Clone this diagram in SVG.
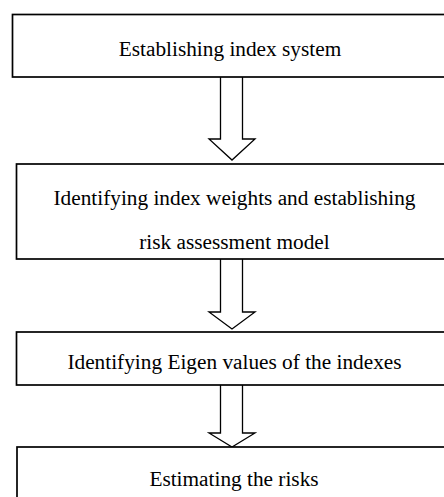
<svg xmlns="http://www.w3.org/2000/svg" width="444" height="497" viewBox="0 0 444 497">
<style>
.box{fill:#fff;stroke:#000;stroke-width:1.7}
.arr{fill:#fff;stroke:#000;stroke-width:1.3;stroke-linejoin:miter}
text{font-family:"Liberation Serif","Times New Roman",serif;font-size:21.3px;fill:#000;text-anchor:middle}
</style>
<rect width="444" height="497" fill="#fff"/>
<g id="connectors">
<path class="arr" d="M220.5,77 L220.5,139 L209,139 L232,160 L255,139 L242.5,139 L242.5,77"/>
<path class="arr" d="M220.5,259 L220.5,312 L209,312 L232,329 L255,312 L242.5,312 L242.5,259"/>
<path class="arr" d="M220.5,385 L220.5,433 L209,433 L232,447 L255,433 L242.5,433 L242.5,385"/>
</g>
<g id="node1">
<rect class="box" x="12.5" y="14.5" width="450" height="62.5"/>
<text x="230" y="56">Establishing index system</text>
</g>
<g id="node2">
<rect class="box" x="16.5" y="164" width="450" height="95"/>
<text x="234.5" y="205">Identifying index weights and establishing</text>
<text x="234.5" y="249">risk assessment model</text>
</g>
<g id="node3">
<rect class="box" x="16.5" y="332" width="450" height="53"/>
<text x="234.5" y="369">Identifying Eigen values of the indexes</text>
</g>
<g id="node4">
<rect class="box" x="17" y="447" width="450" height="80"/>
<text x="234" y="486">Estimating the risks</text>
</g>
</svg>
